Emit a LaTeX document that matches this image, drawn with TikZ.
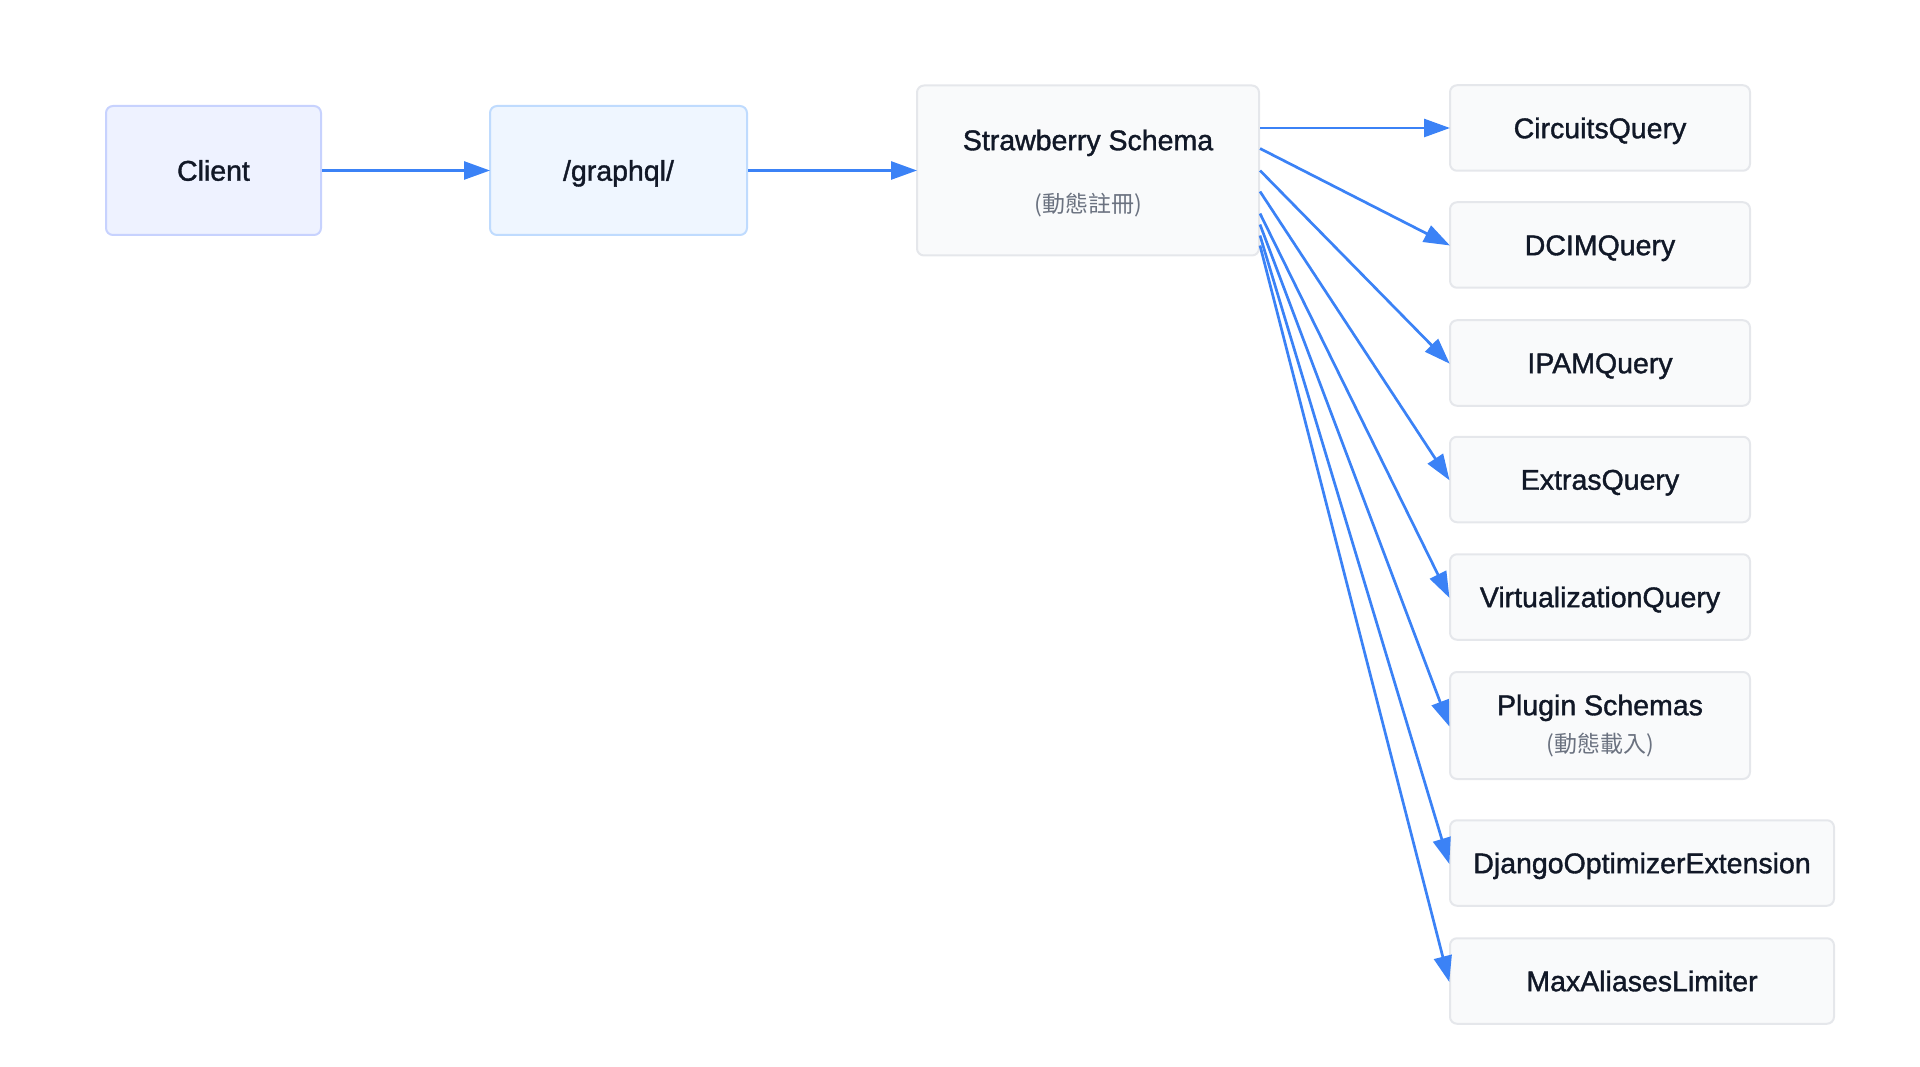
\documentclass[tikz,border=0pt]{standalone}
\usepackage{fontspec}
\setmainfont{Liberation Sans}[FakeBold=1.3]
\newfontfamily\cjkfont{Noto Sans CJK TC}
\usetikzlibrary{arrows.meta}
\definecolor{edgeblue}{HTML}{3B82F6}
\definecolor{indfill}{HTML}{EEF2FF}
\definecolor{inddraw}{HTML}{C7D2FE}
\definecolor{bluefill}{HTML}{EFF6FF}
\definecolor{bluedraw}{HTML}{BFDBFE}
\definecolor{grayfill}{HTML}{F9FAFB}
\definecolor{graydraw}{HTML}{E5E7EB}
\definecolor{txt}{HTML}{111827}
\definecolor{subtxt}{HTML}{6B7280}
\begin{document}
\begin{tikzpicture}[x=1pt,y=-1pt,
  basebox/.style={rectangle, rounded corners=7pt, line width=2pt, inner sep=0pt, anchor=center,
    font=\fontsize{28.5}{34}\selectfont, text=txt, text height=20.4pt, text depth=0pt},
  clientbox/.style={basebox, fill=indfill, draw=inddraw},
  apibox/.style={basebox, fill=bluefill, draw=bluedraw},
  qbox/.style={basebox, fill=grayfill, draw=graydraw, minimum width=300pt, minimum height=85.5pt},
  widebox/.style={qbox, minimum width=384pt},
  titletext/.style={inner sep=0pt, font=\fontsize{28.5}{34}\selectfont, text=txt, text height=20.4pt, text depth=0pt},
  subtext/.style={inner sep=0pt, font=\cjkfont\fontsize{23}{28}\selectfont, text=subtxt},
  conn/.style={draw=edgeblue, line width=2.7pt, -{Triangle[length=26pt,width=18pt]}, shorten >=-1pt}
]
\useasboundingbox (0,0) rectangle (1920,1067);

\node[clientbox, minimum width=215pt, minimum height=129pt] (client) at (213.5,170.5) {Client};
\node[apibox, minimum width=257pt, minimum height=129pt] (gql) at (618.5,170.5) {/graphql/};
\node[basebox, fill=grayfill, draw=graydraw, minimum width=342pt, minimum height=170pt] (schema) at (1088,170.5) {};
\node[titletext] (schemat) at (1088,140) {Strawberry Schema};
\node[subtext] (schemas) at (1088,205) {(動態註冊)};

\node[qbox] (circ) at (1600,128) {CircuitsQuery};
\node[qbox] (dcim) at (1600,245) {DCIMQuery};
\node[qbox] (ipam) at (1600,363) {IPAMQuery};
\node[qbox] (extras) at (1600,479.5) {ExtrasQuery};
\node[qbox] (virt) at (1600,597) {VirtualizationQuery};
\node[qbox, minimum height=107pt] (plugin) at (1600,725.5) {};
\node[titletext] (plugint) at (1600,705) {Plugin Schemas};
\node[subtext] (plugins) at (1600,745) {(動態載入)};
\node[widebox] (django) at (1642,863) {DjangoOptimizerExtension};
\node[widebox] (maxal) at (1642,981) {MaxAliasesLimiter};

\draw[conn] (client.east) -- (gql.west);
\draw[conn] (gql.east) -- (schema.west);

\draw[conn] (schema.east |- circ.west) -- (circ.west);
\draw[conn] ([yshift=22pt]schema.east) -- (dcim.west);
\draw[conn] (schema.east) -- (ipam.west);
\draw[conn] ([yshift=-21pt]schema.east) -- (extras.west);
\draw[conn] ([yshift=-43pt]schema.east) -- (virt.west);
\draw[conn] ([yshift=-54pt]schema.east) -- (plugin.west);
\draw[conn] ([yshift=-65pt]schema.east) -- (django.west);
\draw[conn] ([yshift=-75pt]schema.east) -- (maxal.west);
\end{tikzpicture}
\end{document}
